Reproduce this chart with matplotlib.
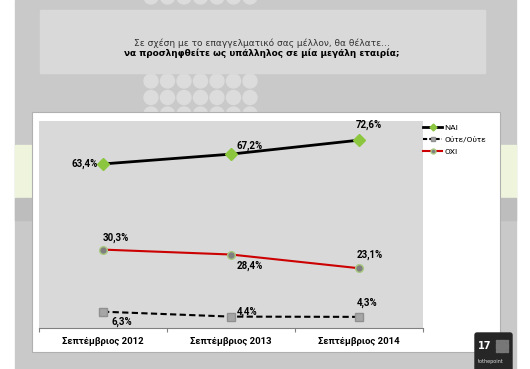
import matplotlib.pyplot as plt
from matplotlib.patches import Rectangle, Circle, FancyBboxPatch
from matplotlib.lines import Line2D

plt.rcParams['font.family'] = ['Roboto', 'DejaVu Sans']

# data
categories = ["Σεπτέμβριος 2012", "Σεπτέμβριος 2013", "Σεπτέμβριος 2014"]
nai = [63.4, 67.2, 72.6]
oute = [6.3, 4.4, 4.3]
oxi = [30.3, 28.4, 23.1]
series_names = ["NAI", "Ούτε/Ούτε", "OXI"]
title_line1 = "Σε σχέση με το επαγγελματικό σας μέλλον, θα θέλατε…"
title_line2 = "να προσληφθείτε ως υπάλληλος σε μία μεγάλη εταιρία;"

W, H = 530, 369
fig = plt.figure(figsize=(W / 100, H / 100), dpi=100)

# background decoration in pixel coords
bg = fig.add_axes([0, 0, 1, 1])
bg.set_xlim(0, W)
bg.set_ylim(H, 0)
bg.axis("off")
bg.add_patch(Rectangle((15, 0), 501, H, color="#c9c9c9", zorder=0))
bg.add_patch(Rectangle((15, 145), 17, 53, color="#eef5dc", zorder=1))
bg.add_patch(Rectangle((15, 198), 17, 22, color="#bdbdbd", zorder=1))
bg.add_patch(Rectangle((499, 145), 17, 53, color="#eef5dc", zorder=1))
bg.add_patch(Rectangle((499, 198), 17, 22, color="#bdbdbd", zorder=1))
for cx in [151, 167.5, 184, 200.5, 217, 233.5, 250]:
    for cy in [-3, 81, 97.5, 114]:
        bg.add_patch(Circle((cx, cy), 7, color="#dcdcdc", zorder=1))
bg.add_patch(Rectangle((40, 10), 445, 63, color="#d9d9d9", zorder=2))
bg.text(262, 43, title_line1, ha="center", va="center", fontsize=6.5,
        family="DejaVu Sans", color="#333333", zorder=3)
bg.text(262, 53.5, title_line2, ha="center", va="center", fontsize=6.4,
        family="DejaVu Sans", fontweight="bold", color="black", zorder=3)
bg.add_patch(Rectangle((32, 112), 468, 240, facecolor="white",
                       edgecolor="#b0b0b0", lw=0.8, zorder=2))
# page badge
bg.add_patch(FancyBboxPatch((475, 333), 37, 40, boxstyle="round,pad=0,rounding_size=2",
                            color="#262626", zorder=5))
bg.text(478, 346, "17", color="white", fontsize=7, fontweight="bold",
        family="DejaVu Sans", va="center", zorder=6)
bg.text(478, 362, "tothepoint", color="#dddddd", fontsize=3.5,
        family="DejaVu Sans", va="center", zorder=6)
for gx in range(4):
    for gy in range(4):
        bg.add_patch(Rectangle((496 + gx * 3.2, 340 + gy * 3.2), 2.4, 2.4,
                               color="#777777", zorder=6))

# chart area
ax = fig.add_axes([39 / W, 1 - 328 / H, (423 - 39) / W, (328 - 121) / H])
ax.set_facecolor("#d9d9d9")
x = range(len(categories))

ax.plot(x, nai, color="black", lw=2, marker="D", ms=6.5, mfc="#8cc63f",
        mec="#8cc63f", zorder=4)
ax.plot(x, oute, color="black", lw=1.5, ls=(0, (3, 1.6)), marker="s", ms=5.5,
        mfc="#a6a6a6", mec="#909090", zorder=4)
ax.plot(x, oxi, color="#cc0000", lw=1.5, marker="o", ms=5.5, mfc="#7f7f7f",
        mec="#a8c880", zorder=4)

ax.set_xlim(-0.5, 2.5)
ax.set_ylim(0, 80)
ax.set_yticks([])
ax.set_xticks([-0.5, 0.5, 1.5, 2.5])
ax.set_xticklabels([])
ax.tick_params(axis="x", length=3, color="#808080", width=0.8)
for s in ["top", "right", "left"]:
    ax.spines[s].set_visible(False)
ax.spines["bottom"].set_color("#808080")
for i, c in enumerate(categories):
    ax.annotate(c, (i, 0), xytext=(0, -14), textcoords="offset pixels",
                ha="center", va="center", fontsize=6.8, fontweight="bold",
                annotation_clip=False)

lab = dict(fontsize=7, fontweight="bold", color="black", zorder=5,
           textcoords="offset pixels", va="center", annotation_clip=False)
fmt = lambda v: f"{v:.1f}%".replace(".", ",")
ax.annotate(fmt(nai[0]), (0, nai[0]), xytext=(-5, 0), ha="right", **lab)
ax.annotate(fmt(nai[1]), (1, nai[1]), xytext=(6, 8), ha="left", **lab)
ax.annotate(fmt(nai[2]), (2, nai[2]), xytext=(10, 15), ha="center", **lab)
ax.annotate(fmt(oxi[0]), (0, oxi[0]), xytext=(0, 12), ha="left", **lab)
ax.annotate(fmt(oxi[1]), (1, oxi[1]), xytext=(6, -11), ha="left", **lab)
ax.annotate(fmt(oxi[2]), (2, oxi[2]), xytext=(-2, 13), ha="left", **lab)
ax.annotate(fmt(oute[0]), (0, oute[0]), xytext=(9, -10), ha="left", **lab)
ax.annotate(fmt(oute[1]), (1, oute[1]), xytext=(6, 5), ha="left", **lab)
ax.annotate(fmt(oute[2]), (2, oute[2]), xytext=(-2, 14), ha="left", **lab)

handles = [
    Line2D([], [], color="black", lw=2, marker="D", ms=3.5, mfc="#8cc63f", mec="#8cc63f"),
    Line2D([], [], color="black", lw=1.5, ls=(0, (2, 1)), marker="s", ms=3.5, mfc="#a6a6a6", mec="#909090"),
    Line2D([], [], color="#cc0000", lw=1.5, marker="o", ms=3.5, mfc="#7f7f7f", mec="#a8c880"),
]
fig.legend(handles, series_names, loc="upper left", bbox_to_anchor=(420 / W, 1 - 121 / H),
           frameon=False, fontsize=6, handlelength=2.2, handletextpad=0.3,
           labelspacing=0.6, borderaxespad=0)

fig.savefig("out.png", dpi=100)
